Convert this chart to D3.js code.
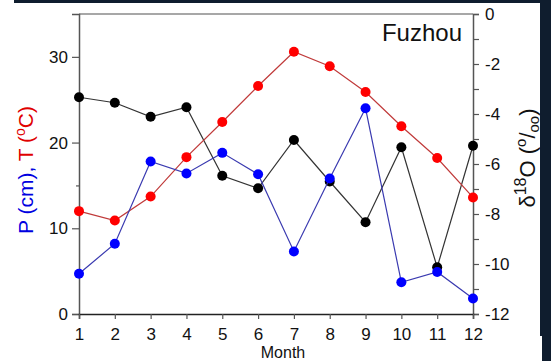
<!DOCTYPE html>
<html>
<head>
<meta charset="utf-8">
<script src="https://cdn.jsdelivr.net/npm/d3@7"></script>
<style>
  body { margin: 0; background: #fff; }
  svg { display: block; font-family: "Liberation Sans", Arial, sans-serif; }
</style>
</head>
<body>
<svg width="551" height="361"></svg>
<script>
var width = 551;
var height = 361;

// data
var months = [1, 2, 3, 4, 5, 6, 7, 8, 9, 10, 11, 12];
var precip = [4.7, 8.2, 17.8, 16.4, 18.8, 16.3, 7.3, 15.8, 24.0, 3.7, 4.9, 1.8];
var temp = [12.0, 10.9, 13.7, 18.3, 22.4, 26.6, 30.6, 28.9, 25.9, 21.9, 18.2, 13.6];
var d18O = [-3.33, -3.55, -4.11, -3.73, -6.47, -6.97, -5.04, -6.7, -8.33, -5.33, -10.13, -5.27];
var leftTicks = [0, 5, 10, 15, 20, 25, 30];
var rightTicks = [0, -1, -2, -3, -4, -5, -6, -7, -8, -9, -10, -11, -12];

var svg = d3.select("svg");

// dark frame bits of the slide
svg.append("rect").attr("x", 14).attr("y", 0).attr("width", 537).attr("height", 3).attr("fill", "#0f1d2e");
svg.append("rect").attr("x", 540).attr("y", 0).attr("width", 11).attr("height", 336).attr("fill", "#0f1d2e");
svg.append("rect").attr("x", 542).attr("y", 336).attr("width", 9).attr("height", 25).attr("fill", "#0f1d2e");

//------------------------------------------------------------
// scales
//------------------------------------------------------------
var x = d3.scaleLinear().domain([1, 12]).range([79, 473]);
var yL = d3.scaleLinear().domain([0, 35]).range([314, 14]);
var yR = d3.scaleLinear().domain([-12, 0]).range([314, 14]);

//------------------------------------------------------------
// axes
//------------------------------------------------------------
var fontSize = "17px";

// top border
svg.append("line").attr("x1", 79).attr("x2", 473).attr("y1", 14).attr("y2", 14)
    .attr("stroke", "#8a8a8a").attr("stroke-width", 1.5);

var gLeft = svg.append("g").attr("transform", "translate(79,0)")
    .call(d3.axisLeft(yL).tickValues(leftTicks).tickSize(7).tickPadding(4)
        .tickFormat(d => d % 10 === 0 ? d : ""));
gLeft.selectAll(".tick line").attr("x2", d => d % 10 === 0 ? -7 : -3);

var gRight = svg.append("g").attr("transform", "translate(473,0)")
    .call(d3.axisRight(yR).tickValues(rightTicks).tickSize(6).tickPadding(6)
        .tickFormat(d => d % 2 === 0 ? (d === 0 ? "0" : "-" + Math.abs(d)) : ""));

var gBottom = svg.append("g").attr("transform", "translate(0,314)")
    .call(d3.axisBottom(x).tickValues(months).tickSize(5).tickPadding(9)
        .tickFormat(d3.format("d")));

[gLeft, gRight, gBottom].forEach(function(g) {
  g.selectAll(".domain").attr("stroke", "#555").attr("stroke-width", 1.5);
  g.selectAll(".tick line").attr("stroke", "#555").attr("stroke-width", 1.2);
  g.selectAll("text").attr("font-size", fontSize).attr("fill", "#111")
    .attr("font-family", "Liberation Sans, Arial, sans-serif");
});
gBottom.select(".domain").attr("stroke", "#222");

//------------------------------------------------------------
// series
//------------------------------------------------------------
function drawSeries(vals, scale, lineColor, dotColor) {
  var pts = months.map((m, i) => [x(m), scale(vals[i])]);
  svg.append("path")
      .attr("d", d3.line()(pts))
      .attr("fill", "none")
      .attr("stroke", lineColor)
      .attr("stroke-width", 1.2);
  svg.append("g").selectAll("circle")
      .data(pts)
      .join("circle")
      .attr("cx", d => d[0])
      .attr("cy", d => d[1])
      .attr("r", 5)
      .attr("fill", dotColor);
}

drawSeries(d18O, yR, "#333", "#000");
drawSeries(temp, yL, "#c03a3a", "#ff0000");
drawSeries(precip, yL, "#3a3ab0", "#0000ff");

//------------------------------------------------------------
// labels
//------------------------------------------------------------
svg.append("text").attr("x", 462).attr("y", 41).attr("text-anchor", "end")
    .attr("font-size", "24px").attr("fill", "#111").text("Fuzhou");

svg.append("text").attr("x", 283).attr("y", 358).attr("text-anchor", "middle")
    .attr("font-size", "16px").attr("fill", "#111").text("Month");

var lt = svg.append("text")
    .attr("transform", "translate(33,170) rotate(-90)")
    .attr("text-anchor", "middle")
    .attr("font-size", "21px");
lt.append("tspan").attr("fill", "#0000e0").text("P (cm), ");
lt.append("tspan").attr("fill", "#e00000").text("T (");
lt.append("tspan").attr("fill", "#e00000").attr("dy", -8).attr("font-size", "14px").text("o");
lt.append("tspan").attr("fill", "#e00000").attr("dy", 8).text("C)");

var rt = svg.append("text")
    .attr("transform", "translate(535,158) rotate(-90)")
    .attr("text-anchor", "middle")
    .attr("font-size", "22px")
    .attr("fill", "#111");
rt.append("tspan").text("δ");
rt.append("tspan").attr("dy", -9).attr("font-size", "16px").text("18");
rt.append("tspan").attr("dy", 9).text("O (");
rt.append("tspan").attr("dy", -9).attr("font-size", "15px").text("o");
rt.append("tspan").attr("dy", 9).text("/");
rt.append("tspan").attr("dy", 4).attr("font-size", "15px").text("oo");
rt.append("tspan").attr("dy", -4).text(")");
</script>
</body>
</html>
